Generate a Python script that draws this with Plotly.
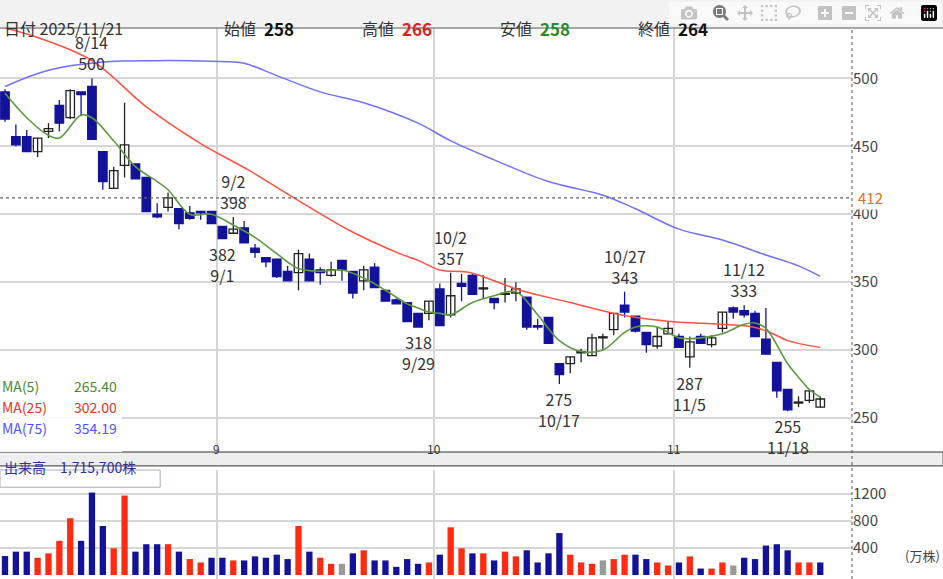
import plotly.graph_objects as go

# ---- data ----
opens  = [490,457,457,446,461,480,471,490,494,446,419,436,437,427,400,405,404,401,402,402,
          391,386,390,375,368,367,358,357,367,359,355,366,358,351,361,344,337,335,327,327,
          345,326,349,355,345,338,341,342,339,318,324,290,290,298,296,309,315,333,325,313,
          303,312,310,295,310,304,316,331,329,327,308,291,271,261,263,258]
highs  = [492,466,462,456,467,484,492,490,500,446,435,482,437,427,408,416,404,406,402,402,
          391,398,395,378,368,367,362,374,371,361,365,366,358,362,364,344,338,335,327,336,
          349,357,356,356,355,338,353,350,339,323,324,290,295,301,312,312,327,343,324,313,
          317,321,312,310,312,311,328,332,333,329,331,291,271,266,270,266]
lows   = [468,450,446,442,456,461,470,472,455,418,419,427,426,402,397,402,389,396,396,393,
          382,386,379,368,361,353,351,344,351,348,354,351,338,344,346,336,334,321,317,322,
          319,324,336,341,338,330,335,336,315,315,305,275,283,291,296,300,311,324,313,298,
          301,312,302,287,305,302,313,323,324,310,297,265,255,258,261,258]
closes = [470,451,446,456,463,467,491,488,455,424,432,451,426,402,398,412,393,397,401,393,
          382,389,379,372,365,354,351,371,351,357,359,359,342,359,346,336,334,321,317,336,
          318,340,347,341,345,335,341.5,345,317,317,305,282,295,298,309,309,327,328,314,304,
          310,316,302,306,305,309,328,328,326,310,297,270,256,261,270,264]

ma5_idx = [0,2,4,5,7,8,10,12,14,15,17,19,21,23,25,27,29,31,33,35,37,38,39,40,41,43,45,47,49,51,
           53,55,57,58,60,62,64,66,68,69,70,72,73,74,75]
ma5_val = [489,471,458,456,473,471,454,435,424,418,400,400,392,383,371,360,358,359,353,344,334,331,328,327,326,335,340,343,326,307,
           299,300,313,317,317,309,309,312,319,320,316,290,280,271,265.4]
ma25_idx = [0,3,8,13,18,22.5,27,31.7,36.3,38,40,42.8,47.4,52,56.6,61.2,65.8,68.8,70.4,72,75]
ma25_val = [537,530,513,479,452,432,410,388,371,366,359,357,344,335,326,321,319,317,313,307,302]
ma75_idx = [0,4,9,14,19,22,25,29,33,38,41,45,50,55,58,62,66,70,73,75]
ma75_val = [494,506,512,513,512.5,511,502,490,482,467,454,440,424,414,404,389,381,370,362,354.2]

volumes = [281,346,346,256,321,506,841,506,1221,726,396,1176,346,456,456,456,346,236,186,256,
           256,216,216,276,256,301,236,726,346,256,166,166,321,366,216,216,121,236,166,186,
           301,706,396,321,321,216,346,276,366,186,321,621,301,186,166,216,236,301,301,236,
           186,141,186,276,96,96,186,141,256,236,436,456,366,186,186,186]
vol_dir = list("bbbrrrrbbbrrbbbrbrrbbrbbbbbrbrrgbrbbbbbrbrrbrbrrbbbbrrrgrrbbrrbrbrrgbbbbbrrb")

month_pos = [19.5, 39.5, 61.5]
month_lbl = ["9", "10", "11"]

marks = [(8, "8/14<br>500", "top"), (21, "9/2<br>398", "top"), (41, "10/2<br>357", "top"),
         (57, "10/27<br>343", "top"), (68, "11/12<br>333", "top"),
         (20, "382<br>9/1", "bot"), (38, "318<br>9/29", "bot"), (51, "275<br>10/17", "bot"),
         (63, "287<br>11/5", "bot"), (72, "255<br>11/18", "bot")]

NAVY = "#12129a"
FONT = "Noto Sans CJK JP"
n = len(opens)
xs = list(range(n))

fig = go.Figure()

for up in (True, False):
    wx, wy = [], []
    for i in xs:
        if (closes[i] >= opens[i]) == up:
            wx += [i, i, None]; wy += [lows[i], highs[i], None]
    fig.add_trace(go.Scatter(x=wx, y=wy, mode="lines", line=dict(color="#222" if up else NAVY, width=1.3),
                             hoverinfo="skip", showlegend=False))
for up in (True, False):
    bx, bb, bh = [], [], []
    for i in xs:
        if (closes[i] >= opens[i]) == up:
            bx.append(i); bb.append(min(opens[i], closes[i])); bh.append(max(abs(closes[i]-opens[i]), 0.8))
    fig.add_trace(go.Bar(x=bx, y=bh, base=bb, width=0.78,
                         marker=dict(color="white" if up else NAVY,
                                     line=dict(color="#222" if up else NAVY, width=1.3)),
                         showlegend=False, hoverinfo="skip"))

fig.add_trace(go.Scatter(x=ma75_idx, y=ma75_val, mode="lines", line=dict(color="#7070ff", width=1.5, shape="spline"), showlegend=False))
fig.add_trace(go.Scatter(x=ma25_idx, y=ma25_val, mode="lines", line=dict(color="#ff5040", width=1.5, shape="spline"), showlegend=False))
fig.add_trace(go.Scatter(x=ma5_idx, y=ma5_val, mode="lines", line=dict(color="#5a9a40", width=1.6, shape="spline"), showlegend=False))

cmap = {"b": NAVY, "r": "#ff2a10", "g": "#9a9a9a"}
fig.add_trace(go.Bar(x=xs, y=volumes, width=0.58, marker=dict(color=[cmap[c] for c in vol_dir], line=dict(width=0)),
                     xaxis="x2", yaxis="y2", showlegend=False))

grid = "#d6d6d6"
fig.update_layout(
    width=943, height=579, margin=dict(l=0, r=91, t=0, b=0),
    paper_bgcolor="white", plot_bgcolor="white", barmode="overlay",
    font=dict(family=FONT, size=15, color="#333"),
    xaxis=dict(domain=[0, 1], range=[-0.46, 77.92], tickvals=month_pos, showticklabels=False,
               showgrid=True, gridcolor=grid, gridwidth=1.5, zeroline=False, anchor="y"),
    yaxis=dict(domain=[0.2193, 0.9516], range=[225, 537], side="right", tickvals=[250, 300, 350, 400, 450, 500],
               showgrid=True, gridcolor=grid, gridwidth=1.5, zeroline=False, ticks="", tickfont=dict(size=15, color="#444")),
    xaxis2=dict(domain=[0, 1], range=[-0.46, 77.92], tickvals=month_pos, showticklabels=False,
                showgrid=True, gridcolor=grid, gridwidth=1.5, zeroline=False, anchor="y2"),
    yaxis2=dict(domain=[0, 0.1883], range=[-59, 1555], side="right", tickvals=[400, 800, 1200],
                showgrid=True, gridcolor=grid, gridwidth=2, zeroline=False, tickfont=dict(size=15, color="#444")),
)

shapes = [
    dict(type="rect", xref="paper", yref="paper", x0=-0.01, x1=1.2, y0=0.9516, y1=1.01, fillcolor="#f2f2f2", line_width=0, layer="below"),
    dict(type="line", xref="paper", yref="paper", x0=0, x1=1.107, y0=0.9516, y1=0.9516, line=dict(color="#555", width=1)),
    dict(type="rect", xref="paper", yref="paper", x0=-0.01, x1=1.107, y0=0.1953, y1=0.2193, fillcolor="#eeeeee", line=dict(color="#333", width=1)),
    dict(type="line", xref="paper", yref="paper", x0=1, x1=1, y0=0, y1=0.9516, line=dict(color="#555", width=1, dash="dot")),
    dict(type="line", xref="paper", yref="y", x0=0, x1=1, y0=412, y1=412, line=dict(color="#666", width=1.2, dash="dot")),
    dict(type="rect", xref="paper", yref="paper", x0=0, x1=0.188, y0=0.1585, y1=0.1883, fillcolor="rgba(255,255,255,0.8)", line=dict(color="#aab", width=1)),
    dict(type="rect", xref="paper", yref="paper", x0=0, x1=0.143, y0=0.2193, y1=0.33, fillcolor="rgba(255,255,255,0.85)", line_width=0),
]
fig.update_layout(shapes=shapes)

ann = []
for i, t, pos in marks:
    if pos == "top":
        ann.append(dict(x=i, y=highs[i], xref="x", yref="y", text=t, showarrow=False, yanchor="bottom", yshift=1,
                        font=dict(size=16, color="#333")))
    else:
        ann.append(dict(x=i, y=lows[i], xref="x", yref="y", text=t, showarrow=False, yanchor="top", yshift=-1,
                        font=dict(size=16, color="#333")))
for p, l in zip(month_pos, month_lbl):
    ann.append(dict(x=p, y=0.2073, xref="x", yref="paper", text=l, showarrow=False, font=dict(size=12, color="#333")))

hdr = [(0.002, "日付 2025/11/21", "#333", False), (0.26, "始値", "#333", False), (0.307, "258", "#111", True),
       (0.423, "高値", "#333", False), (0.469, "266", "#e02020", True), (0.584, "安値", "#333", False),
       (0.631, "258", "#2a8a2a", True), (0.746, "終値", "#333", False), (0.793, "264", "#111", True)]
for x, t, c, b in hdr:
    ann.append(dict(x=x, y=0.976, xref="paper", yref="paper", xanchor="left", text=f"<b>{t}</b>" if b else t,
                    showarrow=False, font=dict(size=17 if b else 16, color=c)))

for yy, lab, val, c in [(0.3125, "MA(5)", "265.40", "#4a8a30"), (0.276, "MA(25)", "302.00", "#f03020"), (0.2397, "MA(75)", "354.19", "#5050ff")]:
    ann.append(dict(x=0.0, y=yy, xref="paper", yref="paper", xanchor="left", text=lab, showarrow=False, font=dict(size=14, color=c)))
    ann.append(dict(x=0.14, y=yy, xref="paper", yref="paper", xanchor="right", text=val, showarrow=False, font=dict(size=14, color=c)))

ann.append(dict(x=0.002, y=0.1734, xref="paper", yref="paper", xanchor="left", text="出来高　1,715,700株", showarrow=False,
                font=dict(size=14, color="#3030a0")))
ann.append(dict(x=1.005, y=412, xref="paper", yref="y", xanchor="left", text="412 ", showarrow=False,
                font=dict(size=15, color="#e07020"), bgcolor="white"))
ann.append(dict(x=1.06, y=0.02, xref="paper", yref="paper", xanchor="left", text="(万株)", showarrow=False,
                font=dict(size=13, color="#444")))
fig.update_layout(annotations=ann)

fig.write_html("out.html")
with open("out.html", encoding="utf-8") as f:
    html = f.read()
html = html.replace("<head>", "<head><style>html,body{margin:0;padding:0;overflow:hidden}</style>", 1)
with open("out.html", "w", encoding="utf-8") as f:
    f.write(html)
